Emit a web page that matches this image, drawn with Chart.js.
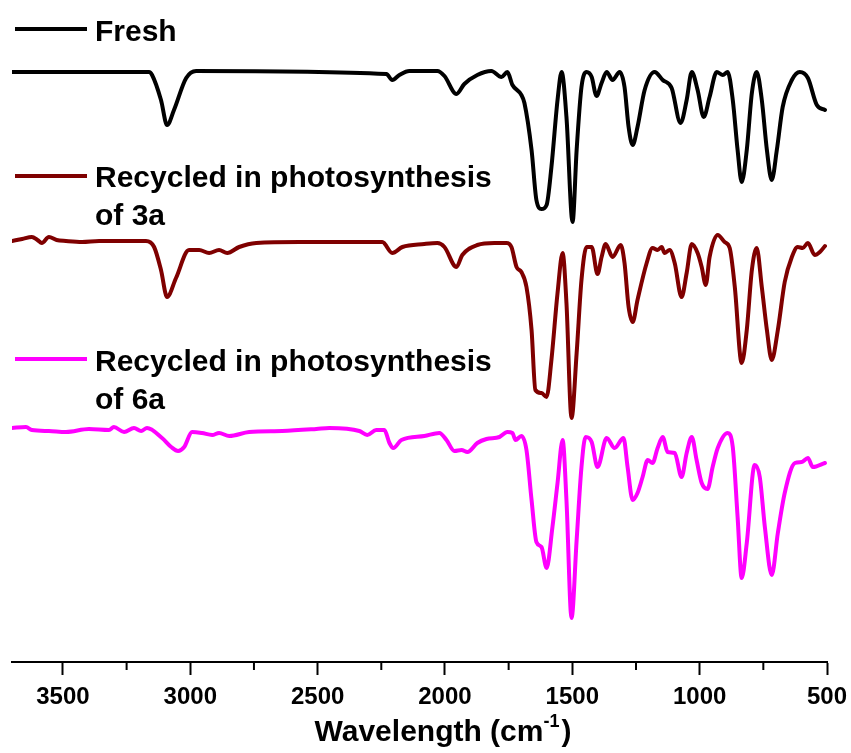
<!DOCTYPE html>
<html>
<head>
<meta charset="utf-8">
<script src="https://cdn.jsdelivr.net/npm/chart.js@4.4.1/dist/chart.umd.min.js"></script>
<style>
  html, body { margin: 0; padding: 0; background: #fff; }
  #wrap { width: 851px; height: 753px; }
</style>
</head>
<body>
<div id="wrap"><canvas id="irChart"></canvas></div>
<script>
// FT-IR spectra, offset for clarity (transmittance in arbitrary units)
const freshWn = [3700, 3162, 3150, 3115, 3091, 3064, 3016, 2977, 2230, 2207, 2179, 2140, 2030, 2002, 1955, 1924, 1873, 1818, 1778, 1755, 1735, 1700, 1688, 1660, 1641, 1621, 1601, 1582, 1558, 1542, 1523, 1499, 1483, 1464, 1444, 1424, 1405, 1385, 1365, 1342, 1314, 1295, 1279, 1263, 1244, 1216, 1177, 1145, 1110, 1075, 1051, 1031, 1008, 984, 961, 933, 909, 890, 870, 851, 835, 815, 795, 776, 756, 736, 717, 697, 674, 638, 607, 575, 540, 508];
const freshT = [590, 590, 587, 562, 537, 552, 584, 591, 588, 582, 587, 591, 591, 586, 568, 578, 587, 591, 585, 590, 577, 567, 559, 512, 462, 453, 457, 495, 562, 590, 545, 440, 512, 575, 590, 585, 566, 579, 590, 582, 590, 575, 535, 517, 535, 572, 590, 582, 574, 539, 562, 590, 572, 545, 565, 590, 587, 590, 562, 512, 480, 512, 569, 590, 562, 512, 482, 512, 555, 582, 590, 584, 557, 552];

const recycled3aWn = [3700, 3660, 3622, 3600, 3583, 3555, 3525, 3488, 3425, 3358, 3174, 3142, 3115, 3091, 3056, 3005, 2965, 2926, 2887, 2855, 2808, 2741, 2572, 2246, 2207, 2167, 2081, 2030, 2002, 1955, 1932, 1873, 1806, 1759, 1739, 1719, 1700, 1680, 1660, 1645, 1621, 1601, 1582, 1558, 1538, 1523, 1503, 1483, 1464, 1444, 1424, 1401, 1385, 1369, 1342, 1310, 1295, 1279, 1263, 1244, 1208, 1185, 1165, 1149, 1138, 1118, 1098, 1071, 1051, 1031, 1008, 992, 976, 961, 929, 902, 882, 862, 835, 815, 795, 776, 756, 736, 717, 693, 666, 638, 615, 595, 575, 548, 528, 508];
const recycled3aT = [421, 423, 425, 422, 419, 425, 422, 421, 420, 421, 421, 415, 392, 365, 384, 412, 412, 409, 412, 409, 415, 419, 420, 420, 409, 415, 418, 419, 415, 395, 407, 417, 419, 419, 415, 395, 390, 375, 332, 272, 269, 265, 302, 369, 409, 359, 244, 309, 382, 415, 415, 388, 405, 418, 405, 417, 399, 355, 340, 362, 399, 414, 412, 415, 409, 412, 399, 365, 389, 418, 409, 395, 377, 405, 427, 420, 414, 375, 299, 332, 392, 414, 375, 332, 302, 332, 380, 405, 415, 414, 419, 407, 410, 416];

const recycled6aWn = [3700, 3645, 3622, 3555, 3488, 3398, 3319, 3300, 3260, 3221, 3193, 3170, 3111, 3075, 3048, 3024, 2993, 2954, 2914, 2887, 2847, 2769, 2639, 2505, 2454, 2336, 2305, 2270, 2238, 2218, 2203, 2171, 2081, 2022, 1994, 1963, 1935, 1912, 1873, 1837, 1786, 1755, 1735, 1723, 1700, 1680, 1660, 1641, 1621, 1601, 1578, 1558, 1538, 1523, 1503, 1483, 1464, 1448, 1424, 1401, 1365, 1334, 1299, 1283, 1263, 1244, 1224, 1204, 1185, 1165, 1145, 1126, 1098, 1071, 1051, 1031, 1012, 992, 969, 949, 929, 890, 870, 851, 835, 815, 784, 764, 744, 717, 693, 666, 626, 599, 575, 556, 508];
const recycled6aT = [234, 235, 232, 231, 230, 233, 232, 235, 230, 234, 231, 234, 224, 215, 211, 215, 230, 229, 227, 229, 226, 230, 231, 233, 234, 231, 227, 232, 232, 219, 214, 222, 226, 229, 222, 211, 212, 210, 219, 223, 225, 230, 229, 222, 226, 212, 162, 120, 115, 94, 135, 179, 222, 162, 44, 122, 195, 225, 220, 195, 224, 214, 224, 195, 162, 169, 185, 202, 199, 214, 225, 210, 209, 185, 209, 225, 202, 179, 173, 195, 214, 229, 215, 145, 84, 119, 197, 185, 135, 87, 129, 169, 199, 200, 204, 195, 199];

// x axis ticks: labelled every 500, minor every 250
const xTickValues = [3500, 3250, 3000, 2750, 2500, 2250, 2000, 1750, 1500, 1250, 1000, 750, 500];
const xLabelled = [3500, 3000, 2500, 2000, 1500, 1000, 500];

const seriesNames = ['Fresh', 'Recycled in photosynthesis of 3a', 'Recycled in photosynthesis of 6a'];
const seriesColors = ['#000000', '#7f0000', '#ff00ff'];

function toPoints(wn, t) {
    return wn.map((w, i) => ({ x: w, y: t[i] }));
}

const FONT = '"Liberation Sans", Arial, sans-serif';

// inline labels next to each spectrum + axis title with real superscript
const inlineLegend = {
    id: 'inlineLegend',
    afterDraw(chart) {
        const ctx = chart.ctx;
        const rows = [
            { color: seriesColors[0], lineY: 29, lines: ['Fresh'], baseY: 41 },
            { color: seriesColors[1], lineY: 176, lines: ['Recycled in photosynthesis', 'of 3a'], baseY: 187 },
            { color: seriesColors[2], lineY: 359, lines: ['Recycled in photosynthesis', 'of 6a'], baseY: 371 },
        ];
        ctx.save();
        ctx.font = 'bold 30px ' + FONT;
        ctx.textBaseline = 'alphabetic';
        ctx.textAlign = 'left';
        rows.forEach(r => {
            ctx.strokeStyle = r.color;
            ctx.lineWidth = 4;
            ctx.beginPath();
            ctx.moveTo(15, r.lineY);
            ctx.lineTo(87, r.lineY);
            ctx.stroke();
            ctx.fillStyle = '#000';
            r.lines.forEach((txt, i) => ctx.fillText(txt, 95, r.baseY + i * 38));
        });

        // "Wavelength (cm-1)"
        const main = 'Wavelength (cm';
        const sup = '-1';
        const close = ')';
        const bigFont = 'bold 30px ' + FONT;
        const supFont = 'bold 18px ' + FONT;
        ctx.font = bigFont;
        const wMain = ctx.measureText(main).width;
        const wClose = ctx.measureText(close).width;
        ctx.font = supFont;
        const wSup = ctx.measureText(sup).width;
        const total = wMain + wSup + 2 + wClose;
        let x = 443 - total / 2;
        const base = 741;
        ctx.fillStyle = '#000';
        ctx.font = bigFont;
        ctx.fillText(main, x, base);
        x += wMain;
        ctx.font = supFont;
        ctx.fillText(sup, x, base - 14);
        x += wSup + 2;
        ctx.font = bigFont;
        ctx.fillText(close, x, base);
        ctx.restore();
    }
};

// shorter minor ticks (every 250) drawn from the scale's own ticks
const minorTicks = {
    id: 'minorTicks',
    afterDraw(chart) {
        const sx = chart.scales.x;
        const ctx = chart.ctx;
        ctx.save();
        ctx.strokeStyle = '#000';
        ctx.lineWidth = 2;
        sx.ticks.forEach(t => {
            if (xLabelled.includes(t.value)) return;
            const px = sx.getPixelForValue(t.value);
            ctx.beginPath();
            ctx.moveTo(px, sx.top);
            ctx.lineTo(px, sx.top + 8);
            ctx.stroke();
        });
        ctx.restore();
    }
};

const ctx = document.getElementById('irChart');
new Chart(ctx, {
    type: 'line',
    data: {
        datasets: [
            { label: seriesNames[0], data: toPoints(freshWn, freshT), borderColor: seriesColors[0] },
            { label: seriesNames[1], data: toPoints(recycled3aWn, recycled3aT), borderColor: seriesColors[1] },
            { label: seriesNames[2], data: toPoints(recycled6aWn, recycled6aT), borderColor: seriesColors[2] },
        ]
    },
    options: {
        responsive: true,
        maintainAspectRatio: false,
        animation: false,
        layout: { padding: { left: 12, right: 24, top: 10, bottom: 0 } },
        elements: {
            line: { borderWidth: 4, cubicInterpolationMode: 'monotone', borderJoinStyle: 'round', borderCapStyle: 'round' },
            point: { radius: 0 }
        },
        scales: {
            x: {
                type: 'linear',
                reverse: true,
                min: 500,
                max: 3700,
                afterBuildTicks: scale => { scale.ticks = xTickValues.map(v => ({ value: v })); },
                afterFit: scale => {
                    scale.height = 91;
                    scale.paddingLeft = 0;
                    scale.paddingRight = 0;
                },
                ticks: {
                    autoSkip: false,
                    maxRotation: 0,
                    padding: 8,
                    color: '#000',
                    font: { family: FONT, size: 24, weight: 'bold' },
                    callback: v => (xLabelled.includes(v) ? String(v) : '')
                },
                grid: {
                    drawOnChartArea: false,
                    tickLength: 13,
                    tickWidth: 2,
                    tickColor: c => (c.tick && xLabelled.includes(c.tick.value) ? '#000' : 'rgba(0,0,0,0)')
                },
                border: { display: true, color: '#000', width: 2 },
                title: { display: false }
            },
            y: { display: false, min: 0, max: 652 }
        },
        plugins: {
            legend: { display: false },
            tooltip: { enabled: false }
        }
    },
    plugins: [inlineLegend, minorTicks]
});
</script>
</body>
</html>
